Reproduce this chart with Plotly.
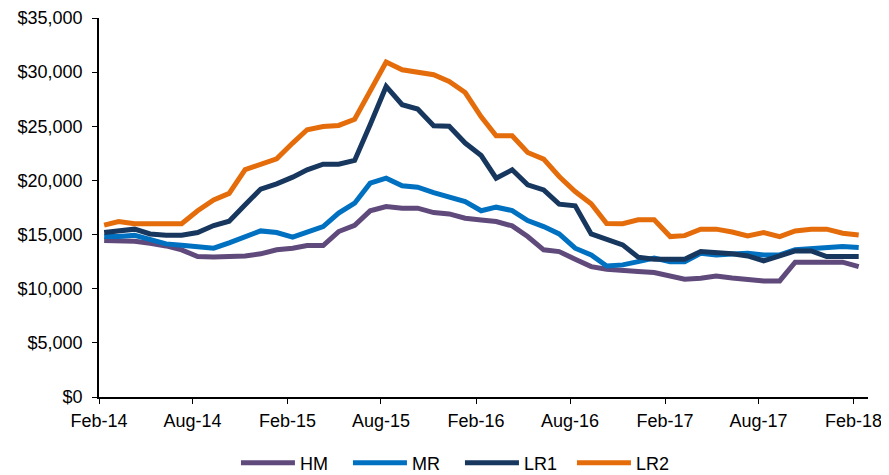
import pandas as pd
import plotly.graph_objects as go

# Monthly observations, Feb-2014 .. Feb-2018 (49 points)
months = pd.date_range("2014-02-01", periods=49, freq="MS") + pd.Timedelta(days=10)

hm = [14450, 14450, 14390, 14200, 13950, 13590, 12970, 12930, 12950, 13030,
      13220, 13590, 13740, 13980, 13980, 15280, 15850, 17190, 17590, 17440,
      17440, 17030, 16910, 16510, 16350, 16200, 15800, 14820, 13590, 13430,
      12730, 12040, 11800, 11640, 11580, 11490, 11180, 10880, 10970, 11180,
      11000, 10810, 10720, 10720, 12450, 12450, 12450, 12450, 12040]

mr = [14820, 14820, 14940, 14510, 14140, 14020, 13890, 13740, 14230, 14820,
      15340, 15190, 14760, 15220, 15740, 16980, 17900, 19750, 20210, 19500,
      19380, 18880, 18420, 18050, 17200, 17530, 17220, 16290, 15740, 15060,
      13740, 13120, 12100, 12200, 12500, 12820, 12500, 12500, 13280, 13120,
      13200, 13280, 13120, 13120, 13590, 13680, 13830, 13890, 13800]

lr1 = [15190, 15370, 15500, 15060, 14940, 14940, 15190, 15830, 16230, 17750,
       19200, 19690, 20300, 20980, 21500, 21500, 21850, 25140, 28680, 26990,
       26590, 25050, 25000, 23450, 22300, 20210, 20980, 19590, 19130, 17810,
       17650, 15060, 14540, 14050, 12910, 12730, 12730, 12730, 13430, 13340,
       13220, 13030, 12570, 13030, 13490, 13490, 12970, 12970, 12970]

lr2 = [15870, 16200, 16000, 15960, 16000, 16000, 17200, 18200, 18800, 21000,
       21500, 22000, 23450, 24680, 24980, 25080, 25650, 28300, 30930, 30220,
       30030, 29760, 29140, 28120, 25880, 24120, 24120, 22580, 21970, 20360,
       18980, 17840, 16020, 16000, 16360, 16360, 14815, 14900, 15500, 15500,
       15240, 14880, 15190, 14815, 15340, 15500, 15500, 15130, 14970]

series = [("HM", hm, "#604A7B"), ("MR", mr, "#0070C0"),
          ("LR1", lr1, "#17375E"), ("LR2", lr2, "#E46C0A")]

fig = go.Figure()
for name, vals, col in series:
    fig.add_trace(go.Scatter(x=months, y=vals, mode="lines", name=name,
                             line=dict(color=col, width=5)))

font = dict(family="Liberation Sans, Arial, sans-serif", size=18, color="#000000")

# page body has an 8px margin, so the figure is drawn 8px in from the corner
fig.update_layout(
    width=881, height=467,
    margin=dict(l=91, r=21, t=10, b=78, autoexpand=False),
    paper_bgcolor="white", plot_bgcolor="white",
    font=font,
    showlegend=True,
    legend=dict(orientation="h", xref="container", yref="container",
                x=0.513, xanchor="center", y=0.0257, yanchor="middle",
                font=font, entrywidth=43, itemwidth=54,
                traceorder="normal"),
    xaxis=dict(type="date", range=["2014-02-01", "2018-03-01"],
               tick0="2014-02-01", dtick="M6", tickformat="%b-%y",
               showgrid=False, zeroline=False, showline=True,
               linecolor="#000000", linewidth=1.5, automargin=False,
               ticks="outside", ticklen=5, tickcolor="#000000",
               ticklabelstandoff=2, ticklabeloverflow="allow",
               tickfont=font),
    yaxis=dict(range=[0, 35000], dtick=5000, tickprefix="$",
               tickformat=",d", showgrid=False, zeroline=False,
               showline=True, linecolor="#000000", linewidth=1.5,
               automargin=False,
               ticks="outside", ticklen=5, tickcolor="#000000",
               ticklabelstandoff=6, tickfont=font),
)

fig.write_html("out.html")
